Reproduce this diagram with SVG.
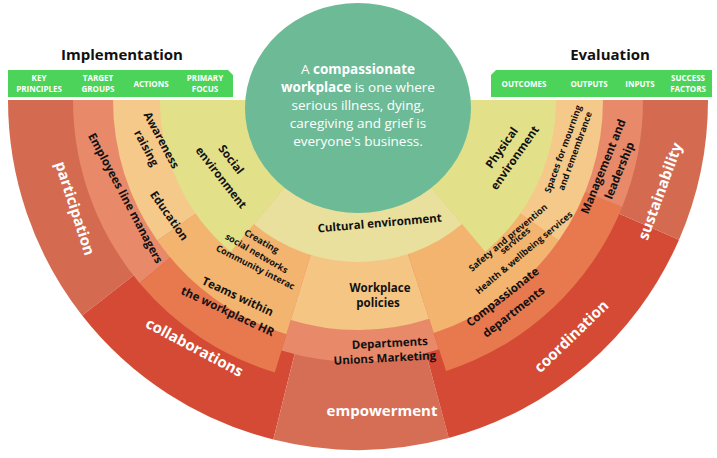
<svg xmlns="http://www.w3.org/2000/svg" width="717" height="458" viewBox="0 0 717 458">
<style>
text{font-family:"Open Sans","Liberation Sans",sans-serif;font-weight:bold;text-anchor:middle}
.hd{font-size:15px;fill:#111}
.bar{fill:#4cd35a}
.bl{font-size:8px;fill:#fff}
.w{font-size:15px;fill:#fff}
.k{font-size:11.5px;fill:#111}
.s{font-size:9px;fill:#111}
.e{font-size:13.5px;fill:#fff;font-weight:normal}
</style>
<rect width="717" height="458" fill="#fff"/>
<g id="headers">
<text class="hd" x="122" y="60">Implementation</text>
<text class="hd" x="610" y="60">Evaluation</text>
<path class="bar" d="M8 70H228L233 75V97H8Z"/>
<path class="bar" d="M496 70H712V97H491V75Z"/>
<text class="bl" x="39" y="81">KEY</text><text class="bl" x="39" y="92">PRINCIPLES</text>
<text class="bl" x="98" y="81">TARGET</text><text class="bl" x="98" y="92">GROUPS</text>
<text class="bl" x="151" y="87">ACTIONS</text>
<text class="bl" x="205" y="81">PRIMARY</text><text class="bl" x="205" y="92">FOCUS</text>
<text class="bl" x="524" y="87">OUTCOMES</text>
<text class="bl" x="589" y="87">OUTPUTS</text>
<text class="bl" x="640" y="87">INPUTS</text>
<text class="bl" x="688" y="81">SUCCESS</text><text class="bl" x="688" y="92">FACTORS</text>
</g>
<g id="key-principles">
<path d="M358 100L8 100A350 350 0 0 0 82.2 315.6Z" fill="#d46a50"/>
<path d="M358 100L82.2 315.6A350 350 0 0 0 273.3 439.5Z" fill="#d44a35"/>
<path d="M358 100L273.3 439.5A350 350 0 0 0 448.7 438.1Z" fill="#d66e55"/>
<path d="M358 100L448.7 438.1A350 350 0 0 0 679 239.7Z" fill="#d44a35"/>
<path d="M358 100L679 239.7A350 350 0 0 0 708 100Z" fill="#d46a50"/>
</g>
<g id="target-groups">
<path d="M358 100L73 100A285 285 0 0 0 139.7 283.3Z" fill="#e8896a"/>
<path d="M358 100L139.7 283.3A285 285 0 0 0 274.8 372.5Z" fill="#e8784e"/>
<path d="M358 100L281.5 350.5A262 262 0 0 0 439 349.2Z" fill="#e88a6a"/>
<path d="M358 100L446.1 371.1A285 285 0 0 0 622.2 206.9Z" fill="#e8784e"/>
<path d="M358 100L622.2 206.9A285 285 0 0 0 643 100Z" fill="#e8896a"/>
</g>
<g id="actions">
<path d="M358 100L113 100A245 245 0 0 0 157.3 240.6Z" fill="#f5c98a"/>
<path d="M358 100L157.3 240.6A245 245 0 0 0 286.4 334.3Z" fill="#f2b46e"/>
<path d="M358 100L290.8 319.9A230 230 0 0 0 429.1 318.7Z" fill="#f5c584"/>
<path d="M358 100L433.7 333A245 245 0 0 0 558.7 240.6Z" fill="#f2b46e"/>
<path d="M358 100L558.7 240.6A245 245 0 0 0 603 100Z" fill="#f5c98a"/>
</g>
<g id="primary-focus">
<path d="M358 100L160 100A198 198 0 0 0 230.7 251.7Z" fill="#e3e08a"/>
<path d="M358 100L253.9 224.1A162 162 0 0 0 462.1 224.1Z" fill="#e8e09c"/>
<path d="M358 100L485.3 251.7A198 198 0 0 0 556 100Z" fill="#e3e08a"/>
</g>
<g id="center">
<ellipse cx="358" cy="108" rx="113" ry="105" fill="#6dba97"/>
<text class="e" x="358" y="74">A <tspan font-weight="bold">compassionate</tspan></text>
<text class="e" x="358" y="92"><tspan font-weight="bold">workplace</tspan> is one where</text>
<text class="e" x="358" y="110">serious illness, dying,</text>
<text class="e" x="358" y="128">caregiving and grief is</text>
<text class="e" x="358" y="146">everyone's business.</text>
</g>
<g id="labels">
<text class="w" transform="translate(70,210) rotate(72)">participation</text>
<text class="w" transform="translate(192,352) rotate(28)">collaborations</text>
<text class="w" x="382" y="416">empowerment</text>
<text class="w" transform="translate(575,340) rotate(-44)">coordination</text>
<text class="w" transform="translate(665,193) rotate(-70)">sustainability</text>
<text class="k" transform="translate(122,200) rotate(62)">Employees  line managers</text>
<text class="k" transform="translate(236,300) rotate(25)">Teams within</text>
<text class="k" transform="translate(226,315) rotate(25)">the workplace  HR</text>
<text class="k" x="390" y="347" transform="rotate(-3 390 347)">Departments</text>
<text class="k" x="385" y="362" transform="rotate(-3 385 362)">Unions  Marketing</text>
<text class="k" transform="translate(505,300) rotate(-38)">Compassionate</text>
<text class="k" transform="translate(516,315) rotate(-38)">departments</text>
<text class="k" transform="translate(607,168) rotate(-68)">Management and</text>
<text class="k" transform="translate(623,172) rotate(-68)">leadership</text>
<text class="k" transform="translate(158,142) rotate(62)">Awareness</text>
<text class="k" transform="translate(143,150) rotate(62)">raising</text>
<text class="k" transform="translate(166,218) rotate(55)">Education</text>
<text class="s" transform="translate(260,244) rotate(30)">Creating</text>
<text class="s" transform="translate(255,256) rotate(30)">social networks</text>
<text class="s" transform="translate(254,270) rotate(27)">Community interac</text>
<text class="k" x="380" y="292">Workplace</text>
<text class="k" x="378" y="307">policies</text>
<text class="s" transform="translate(510,240) rotate(-40)">Safety and prevention</text>
<text class="s" transform="translate(517,243) rotate(-40)">services</text>
<text class="s" transform="translate(526,255) rotate(-40)">Health &amp; wellbeing services</text>
<text class="s" transform="translate(566,150) rotate(-70)">Spaces for mourning</text>
<text class="s" transform="translate(578,152) rotate(-70)">and remembrance</text>
<text class="k" transform="translate(228,162) rotate(52)">Social</text>
<text class="k" transform="translate(218,180) rotate(52)">environment</text>
<text class="k" x="380" y="227" transform="rotate(-5 380 227)">Cultural environment</text>
<text class="k" transform="translate(505,150) rotate(-55)">Physical</text>
<text class="k" transform="translate(518,160) rotate(-55)">environment</text>
</g>
<g id="connectors"></g>
</svg>
